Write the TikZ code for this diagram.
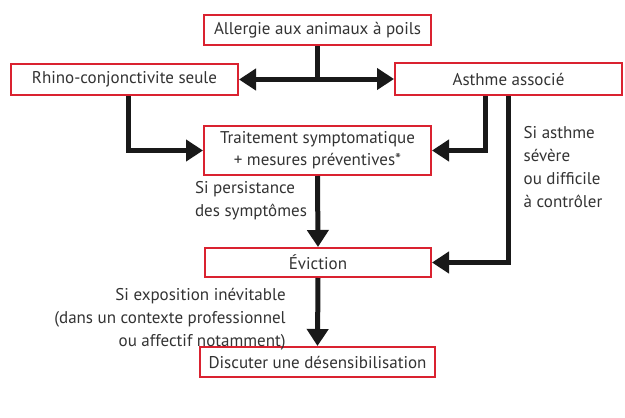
\documentclass[tikz,border=0pt]{standalone}
\usepackage{fontspec}
\setmainfont{PT Sans}
\usetikzlibrary{arrows.meta}
\definecolor{boxred}{HTML}{DA2230}
\definecolor{txt}{HTML}{333333}
\begin{document}
\begin{tikzpicture}[x=1pt,y=-1pt,
  box/.style={draw=boxred,line width=2pt,fill=white,rectangle,inner sep=0pt,text=txt,
    font=\fontsize{17}{22}\selectfont,align=center},
  lbl/.style={text=txt,font=\fontsize{17}{23}\selectfont,inner sep=0pt},
  conn/.style={line width=5pt,draw=black!90,-{Triangle[length=17pt,width=21pt]}}]
\useasboundingbox (0,0) rectangle (625,418);
\node[box,minimum width=227pt,minimum height=30pt] (all) at (317.5,30) {Allergie aux animaux à poils};
\node[box,minimum width=227pt,minimum height=31pt] (rhino) at (124.5,79.5) {Rhino-conjonctivite seule};
\node[box,minimum width=227pt,minimum height=32pt] (asth) at (508.5,79) {Asthme associé};
\node[box,minimum width=227pt,minimum height=49pt] (trait) at (317.5,150.5) {Traitement symptomatique\\+ mesures préventives*};
\node[box,minimum width=226pt,minimum height=29pt] (evic) at (318,262.5) {Éviction};
\node[box,minimum width=235pt,minimum height=30pt] (disc) at (317.5,362) {Discuter une désensibilisation};
\draw[conn] (all.south) |- (rhino.east);
\draw[conn] (all.south) |- (asth.west);
\draw[conn] ([xshift=3.5pt]rhino.south) |- (trait.west);
\draw[conn] ([xshift=-23.5pt]asth.south) |- (trait.east);
\draw[conn] (asth.south) |- (evic.east);
\draw[conn] (trait.south) -- (evic.north);
\draw[conn] (evic.south) -- (disc.north);
\node[lbl,align=left] (l1) at (251,201) {Si persistance\\des symptômes};
\node[lbl,align=left] (l2) at (563,167) {Si asthme\\sévère\\ou difficile\\à contrôler};
\node[lbl,align=right] (l3) at (170,319) {Si exposition inévitable\\(dans un contexte professionnel\\ou affectif notamment)};
\end{tikzpicture}
\end{document}
